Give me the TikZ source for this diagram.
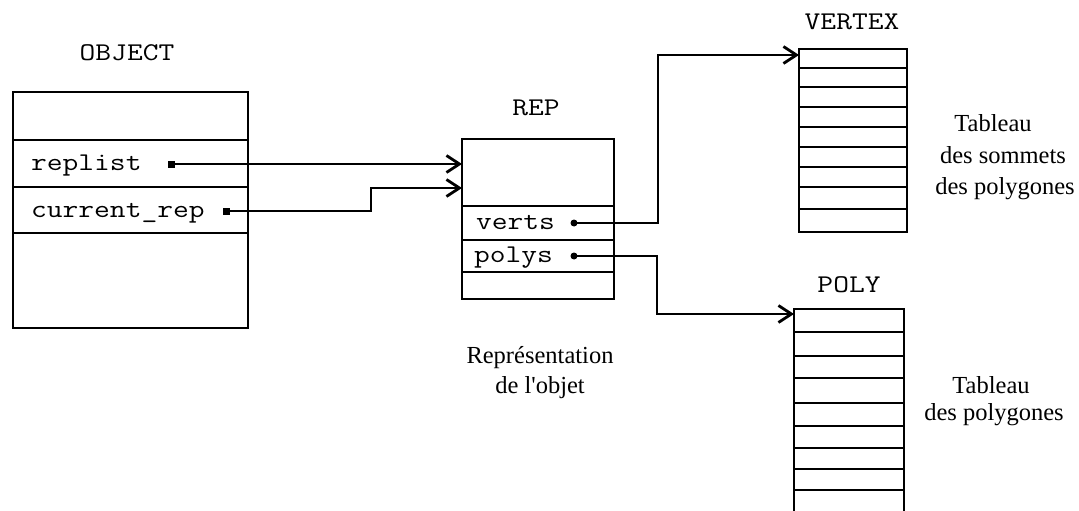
\documentclass[tikz,border=0pt]{standalone}
\usepackage{fontspec}
\setmainfont{Liberation Serif}
\setmonofont[FakeStretch=1.2]{Latin Modern Mono}
\usetikzlibrary{arrows.meta}
\begin{document}
\begin{tikzpicture}[x=1pt,y=-1pt,
  box/.style={draw, line width=2.8pt, inner sep=0pt, outer sep=0pt, anchor=north west},
  rowline/.style={line width=2.8pt},
  fld/.style={font=\fontsize{25.5}{25.5}\selectfont\ttfamily, anchor=base west, inner sep=0pt},
  ttl/.style={font=\fontsize{25.5}{25.5}\selectfont\ttfamily, anchor=base, inner sep=0pt},
  note/.style={font=\fontsize{24.5}{24.5}\selectfont, anchor=base, inner sep=0pt},
  conn/.style={line width=2.8pt, -{Straight Barb[length=13pt,width=17pt,line width=2.8pt]}},
  dotc/.style={rectangle, fill, inner sep=0pt, minimum size=7pt}
]
\useasboundingbox (0,0) rectangle (1079,511);

% ---------- OBJECT ----------
\node[ttl] (objlbl) at (127,60) {OBJECT};
\node[box, minimum width=235pt, minimum height=236pt] (object) at (13,92) {};
\draw[rowline] (13,140) -- (248,140);
\draw[rowline] (13,187) -- (248,187);
\draw[rowline] (13,233) -- (248,233);
\node[fld] (freplist) at (31,170) {replist};
\node[fld] (fcur) at (31,217) {current\_rep};
\node[dotc] (dRep) at (171,164) {};
\node[dotc] (dCur) at (226,211) {};

% ---------- REP ----------
\node[ttl] (replbl) at (536,115) {REP};
\node[box, minimum width=152pt, minimum height=160pt] (rep) at (462,139) {};
\draw[rowline] (462,206) -- (614,206);
\draw[rowline] (462,240) -- (614,240);
\draw[rowline] (462,272) -- (614,272);
\node[fld] (fverts) at (476,229) {verts};
\node[fld] (fpolys) at (474,262) {polys};
\node[dotc,circle] (dVerts) at (574,223) {};
\node[dotc,circle] (dPolys) at (574,256) {};
\coordinate (repIn1) at ([yshift=-25pt]rep.north west);
\coordinate (repIn2) at ([yshift=-49pt]rep.north west);
\node[note] (rep1) at (540,363) {Représentation};
\node[note] (rep2) at (540,393) {de l\textquotesingle objet};

% ---------- VERTEX ----------
\node[ttl] (vtxlbl) at (852,30) {VERTEX};
\node[box, minimum width=108pt, minimum height=183pt] (vertex) at (799,49) {};
\foreach \yy in {68,87,107,127,147,167,187,209}
  \draw[rowline] (799,\yy) -- (907,\yy);
\coordinate (vtxIn) at ([yshift=-6pt]vertex.north west);
\node[note] (vt1) at (993,131) {Tableau};
\node[note] (vt2) at (1003,163) {des sommets};
\node[note] (vt3) at (1005,194) {des polygones};

% ---------- POLY ----------
\node[ttl] (polylbl) at (849,292) {POLY};
\node[box, minimum width=110pt, minimum height=240pt] (poly) at (794,309) {};
\foreach \yy in {332,356,378,403,426,448,469,490}
  \draw[rowline] (794,\yy) -- (904,\yy);
\coordinate (polyIn) at ([yshift=-5pt]poly.north west);
\node[note] (pt1) at (991,393) {Tableau};
\node[note] (pt2) at (994,420) {des polygones};

% ---------- connectors ----------
\draw[conn] (dRep.center) -- (dRep.center -| repIn1);
\draw[conn] (dCur.center) -- ++(145,0) |- (repIn2);
\draw[conn] (dVerts.center) -- ++(84,0) |- (vtxIn);
\draw[conn] (dPolys.center) -- ++(83,0) |- (polyIn);
\end{tikzpicture}
\end{document}
